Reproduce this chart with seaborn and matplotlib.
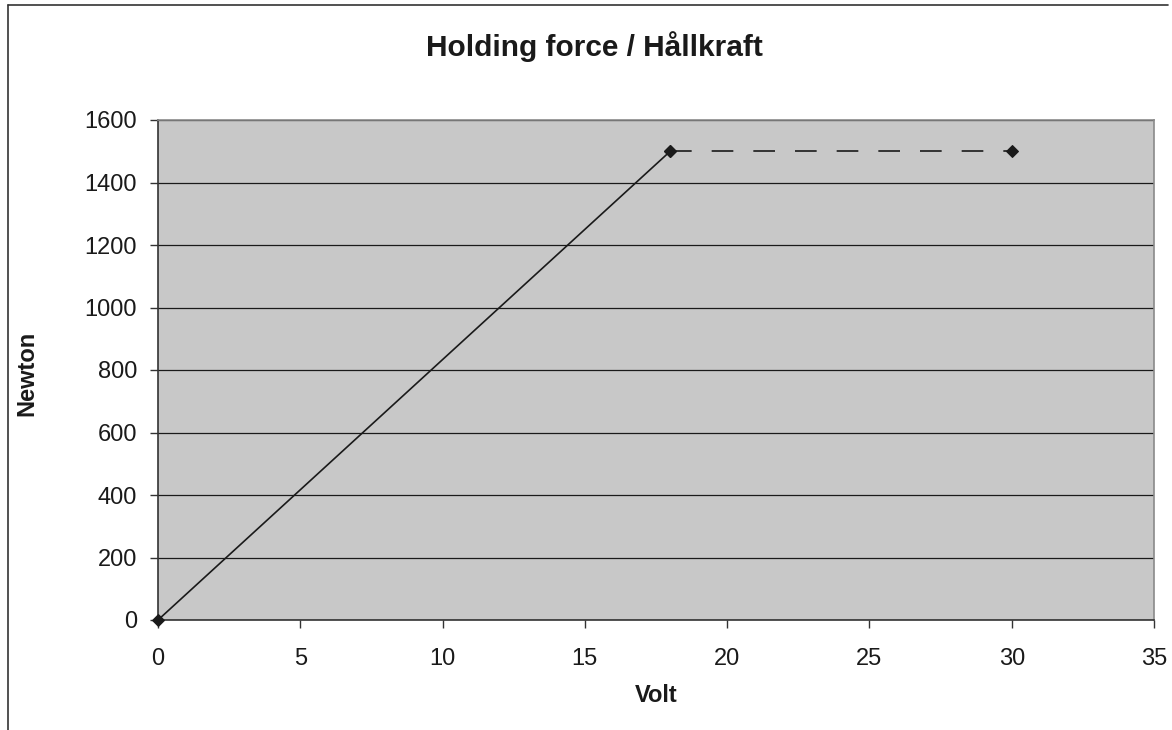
import matplotlib
matplotlib.use("Agg")
import matplotlib.pyplot as plt
import seaborn as sns
import pandas as pd
from matplotlib.lines import Line2D

# Data
volt_rise = [0, 18]
newton_rise = [0, 1500]
volt_hold = [18, 30]
newton_hold = [1500, 1500]
x_ticks = [0, 5, 10, 15, 20, 25, 30, 35]
y_ticks = [0, 200, 400, 600, 800, 1000, 1200, 1400, 1600]

sns.set_theme(style="white")
plt.rcParams['font.family'] = ['Liberation Sans', 'DejaVu Sans']

fig = plt.figure(figsize=(11.72, 7.3), dpi=100)
ax = fig.add_axes([158/1172, 1 - 620/730, (1154-158)/1172, (620-120)/730])
ax.set_facecolor('#c8c8c8')

df_rise = pd.DataFrame({'Volt': volt_rise, 'Newton': newton_rise})
df_hold = pd.DataFrame({'Volt': volt_hold, 'Newton': newton_hold})

sns.lineplot(data=df_rise, x='Volt', y='Newton', ax=ax, color='#1a1a1a', linewidth=1.2,
             marker='D', markersize=6.5, markeredgecolor='#1a1a1a', markerfacecolor='#1a1a1a',
             clip_on=False, zorder=5)
sns.lineplot(data=df_hold, x='Volt', y='Newton', ax=ax, color='#1a1a1a', linewidth=1.2,
             marker='D', markersize=6.5, markeredgecolor='#1a1a1a', markerfacecolor='#1a1a1a',
             dashes=False, clip_on=False, zorder=5)
ax.lines[-1].set_dashes([13, 12])

ax.set_xlim(0, 35)
ax.set_ylim(0, 1600)
ax.set_xticks(x_ticks)
ax.set_yticks(y_ticks)
ax.yaxis.grid(True, color='#1a1a1a', linewidth=0.9)
ax.set_axisbelow(True)

for s in ['left', 'bottom']:
    ax.spines[s].set_color('#333333')
    ax.spines[s].set_linewidth(1.2)
for s in ['top', 'right']:
    ax.spines[s].set_color('#8a8a8a')
    ax.spines[s].set_linewidth(1.2)

ax.tick_params(axis='both', which='major', direction='out', length=6, width=1,
               color='#333333', labelsize=17, labelcolor='#1a1a1a',
               bottom=True, left=True)
ax.tick_params(axis='y', pad=9)
ax.tick_params(axis='x', pad=14)

ax.set_xlabel('Volt', fontsize=17, fontweight='bold', color='#1a1a1a', va='center')
ax.set_ylabel('Newton', fontsize=17, fontweight='bold', color='#1a1a1a', va='center')
ax.xaxis.set_label_coords(0.5, (620 - 696) / 500)
ax.yaxis.set_label_coords((27 - 158) / 996, (620 - 373) / 500)

fig.text(594/1172, 1 - 47/730, 'Holding force / Hållkraft', ha='center', va='center',
         fontsize=21.5, fontweight='bold', color='#1a1a1a')

# figure border (left and top)
fig.add_artist(Line2D([8/1172, 8/1172], [0, 1 - 5/730], transform=fig.transFigure,
                      color='#333333', linewidth=1.2))
fig.add_artist(Line2D([8/1172, 1168/1172], [1 - 5/730, 1 - 5/730], transform=fig.transFigure,
                      color='#333333', linewidth=1.2))

fig.savefig('out.png', dpi=100)
